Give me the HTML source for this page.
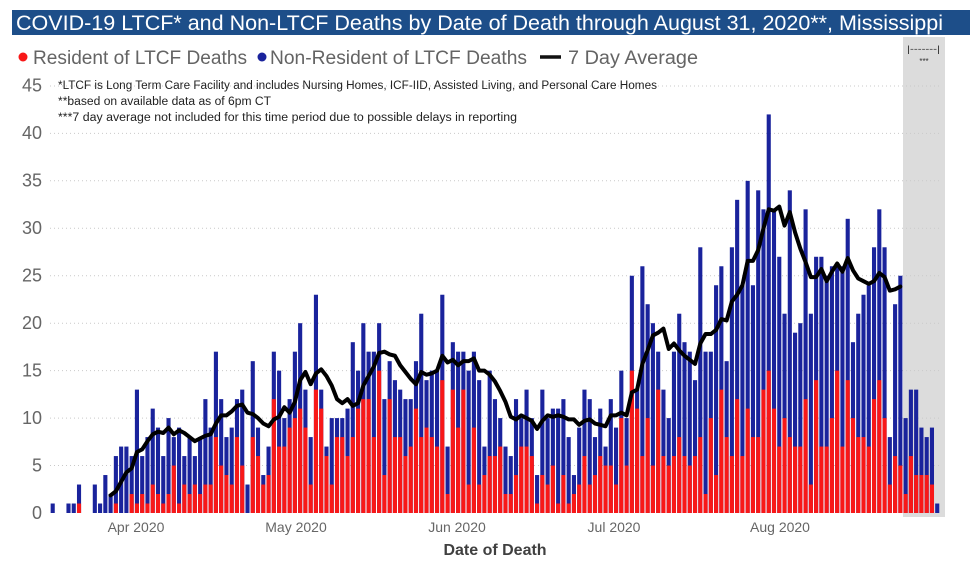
<!DOCTYPE html>
<html><head><meta charset="utf-8"><style>
html,body{margin:0;padding:0;background:#fff;}
svg{display:block;font-family:"Liberation Sans",sans-serif;}
</style></head><body>
<svg width="980" height="566" viewBox="0 0 980 566" xmlns="http://www.w3.org/2000/svg">
<rect width="980" height="566" fill="#fff"/>
<!-- title -->
<rect x="12" y="10" width="958" height="25" fill="#1d4e89"/>
<text x="16" y="30" font-size="21" fill="#fff" textLength="927" lengthAdjust="spacingAndGlyphs">COVID-19 LTCF* and Non-LTCF Deaths by Date of Death through August 31, 2020**, Mississippi</text>
<!-- legend -->
<circle cx="23" cy="57" r="4.5" fill="#f81818"/>
<text x="33" y="64" font-size="19" fill="#646464" textLength="214" lengthAdjust="spacingAndGlyphs">Resident of LTCF Deaths</text>
<circle cx="262" cy="57" r="4.5" fill="#1a239c"/>
<text x="270" y="64" font-size="19" fill="#646464" textLength="257" lengthAdjust="spacingAndGlyphs">Non-Resident of LTCF Deaths</text>
<line x1="540" y1="57" x2="561" y2="57" stroke="#111" stroke-width="3.5"/>
<text x="568" y="64" font-size="19" fill="#646464" textLength="130" lengthAdjust="spacingAndGlyphs">7 Day Average</text>
<!-- shaded region -->
<rect x="903" y="37" width="42" height="480" fill="#dcdcdc"/>
<text x="907" y="52" font-size="9" fill="#333" textLength="33" lengthAdjust="spacingAndGlyphs">|-------|</text>
<text x="924" y="64" font-size="8" fill="#333" text-anchor="middle">***</text>
<!-- gridlines -->
<g stroke="#c9c9c9" stroke-width="1" stroke-dasharray="1 3">
<line x1="50" x2="940" y1="465.5" y2="465.5"/>
<line x1="50" x2="940" y1="418.1" y2="418.1"/>
<line x1="50" x2="940" y1="370.6" y2="370.6"/>
<line x1="50" x2="940" y1="323.2" y2="323.2"/>
<line x1="50" x2="940" y1="275.7" y2="275.7"/>
<line x1="50" x2="940" y1="228.3" y2="228.3"/>
<line x1="50" x2="940" y1="180.8" y2="180.8"/>
<line x1="50" x2="940" y1="133.4" y2="133.4"/>
<line x1="50" x2="940" y1="86" y2="86"/>
</g>
<!-- y labels -->
<g font-size="18" fill="#666" text-anchor="end">
<text x="42" y="519">0</text>
<text x="42" y="471.5">5</text>
<text x="42" y="424">10</text>
<text x="42" y="376.5">15</text>
<text x="42" y="329">20</text>
<text x="42" y="281.5">25</text>
<text x="42" y="234">30</text>
<text x="42" y="186.5">35</text>
<text x="42" y="139">40</text>
<text x="42" y="91.5">45</text>
</g>
<!-- footnotes -->
<g font-size="11.5" fill="#222">
<text x="58" y="89" textLength="599" lengthAdjust="spacingAndGlyphs">*LTCF is Long Term Care Facility and includes Nursing Homes, ICF-IID, Assisted Living, and Personal Care Homes</text>
<text x="58" y="105" textLength="213" lengthAdjust="spacingAndGlyphs">**based on available data as of 6pm CT</text>
<text x="58" y="121" textLength="459" lengthAdjust="spacingAndGlyphs">***7 day average not included for this time period due to possible delays in reporting</text>
</g>
<!-- bars -->
<g transform="translate(52.7 513) scale(5.265 -9.49) translate(-0.39 0)">
<g fill="#1a239c">
<rect x="0" width=".78" height="1"/><rect x="3" width=".78" height="1"/><rect x="4" width=".78" height="1"/><rect x="5" width=".78" height="3"/>
<rect x="8" width=".78" height="3"/><rect x="9" width=".78" height="1"/><rect x="10" width=".78" height="4"/><rect x="11" width=".78" height="2"/>
<rect x="12" width=".78" height="6"/><rect x="13" width=".78" height="7"/><rect x="14" width=".78" height="7"/><rect x="15" width=".78" height="6"/>
<rect x="16" width=".78" height="13"/><rect x="17" width=".78" height="6"/><rect x="18" width=".78" height="8"/><rect x="19" width=".78" height="11"/>
<rect x="20" width=".78" height="9"/><rect x="21" width=".78" height="6"/><rect x="22" width=".78" height="10"/><rect x="23" width=".78" height="8"/>
<rect x="24" width=".78" height="9"/><rect x="25" width=".78" height="6"/><rect x="26" width=".78" height="8"/><rect x="27" width=".78" height="6"/>
<rect x="28" width=".78" height="8"/><rect x="29" width=".78" height="12"/><rect x="30" width=".78" height="9"/><rect x="31" width=".78" height="17"/>
<rect x="32" width=".78" height="12"/><rect x="33" width=".78" height="8"/><rect x="34" width=".78" height="9"/><rect x="35" width=".78" height="12"/>
<rect x="36" width=".78" height="13"/><rect x="37" width=".78" height="3"/><rect x="38" width=".78" height="16"/><rect x="39" width=".78" height="9"/>
<rect x="40" width=".78" height="4"/><rect x="41" width=".78" height="7"/><rect x="42" width=".78" height="17"/><rect x="43" width=".78" height="15"/>
<rect x="44" width=".78" height="10"/><rect x="45" width=".78" height="12"/><rect x="46" width=".78" height="17"/><rect x="47" width=".78" height="20"/>
<rect x="48" width=".78" height="13"/><rect x="49" width=".78" height="8"/><rect x="50" width=".78" height="23"/><rect x="51" width=".78" height="13"/>
<rect x="52" width=".78" height="7"/><rect x="53" width=".78" height="10"/><rect x="54" width=".78" height="10"/><rect x="55" width=".78" height="10"/>
<rect x="56" width=".78" height="11"/><rect x="57" width=".78" height="18"/><rect x="58" width=".78" height="15"/><rect x="59" width=".78" height="20"/>
<rect x="60" width=".78" height="17"/><rect x="61" width=".78" height="17"/><rect x="62" width=".78" height="20"/><rect x="63" width=".78" height="12"/>
<rect x="64" width=".78" height="16"/><rect x="65" width=".78" height="14"/><rect x="66" width=".78" height="13"/><rect x="67" width=".78" height="12"/>
<rect x="68" width=".78" height="12"/><rect x="69" width=".78" height="16"/><rect x="70" width=".78" height="21"/><rect x="71" width=".78" height="14"/>
<rect x="72" width=".78" height="15"/><rect x="73" width=".78" height="15"/><rect x="74" width=".78" height="23"/><rect x="75" width=".78" height="7"/>
<rect x="76" width=".78" height="18"/><rect x="77" width=".78" height="17"/><rect x="78" width=".78" height="17"/><rect x="79" width=".78" height="15"/>
<rect x="80" width=".78" height="17"/><rect x="81" width=".78" height="14"/><rect x="82" width=".78" height="7"/><rect x="83" width=".78" height="15"/>
<rect x="84" width=".78" height="12"/><rect x="85" width=".78" height="10"/><rect x="86" width=".78" height="7"/><rect x="87" width=".78" height="6"/>
<rect x="88" width=".78" height="12"/><rect x="89" width=".78" height="10"/><rect x="90" width=".78" height="13"/><rect x="91" width=".78" height="10"/>
<rect x="92" width=".78" height="4"/><rect x="93" width=".78" height="13"/><rect x="94" width=".78" height="10"/><rect x="95" width=".78" height="11"/>
<rect x="96" width=".78" height="11"/><rect x="97" width=".78" height="12"/><rect x="98" width=".78" height="8"/><rect x="99" width=".78" height="4"/>
<rect x="100" width=".78" height="9"/><rect x="101" width=".78" height="13"/><rect x="102" width=".78" height="12"/><rect x="103" width=".78" height="8"/>
<rect x="104" width=".78" height="11"/><rect x="105" width=".78" height="7"/><rect x="106" width=".78" height="12"/><rect x="107" width=".78" height="9"/>
<rect x="108" width=".78" height="15"/><rect x="109" width=".78" height="10"/><rect x="110" width=".78" height="25"/><rect x="111" width=".78" height="13"/>
<rect x="112" width=".78" height="26"/><rect x="113" width=".78" height="22"/><rect x="114" width=".78" height="20"/><rect x="115" width=".78" height="17"/>
<rect x="116" width=".78" height="13"/><rect x="117" width=".78" height="10"/><rect x="118" width=".78" height="17"/><rect x="119" width=".78" height="21"/>
<rect x="120" width=".78" height="18"/><rect x="121" width=".78" height="17"/><rect x="122" width=".78" height="14"/><rect x="123" width=".78" height="28"/>
<rect x="124" width=".78" height="17"/><rect x="125" width=".78" height="17"/><rect x="126" width=".78" height="24"/><rect x="127" width=".78" height="26"/>
<rect x="128" width=".78" height="16"/><rect x="129" width=".78" height="28"/><rect x="130" width=".78" height="33"/><rect x="131" width=".78" height="24"/>
<rect x="132" width=".78" height="35"/><rect x="133" width=".78" height="24"/><rect x="134" width=".78" height="34"/><rect x="135" width=".78" height="32"/>
<rect x="136" width=".78" height="42"/><rect x="137" width=".78" height="32"/><rect x="138" width=".78" height="27"/><rect x="139" width=".78" height="21"/>
<rect x="140" width=".78" height="34"/><rect x="141" width=".78" height="19"/><rect x="142" width=".78" height="20"/><rect x="143" width=".78" height="32"/>
<rect x="144" width=".78" height="21"/><rect x="145" width=".78" height="27"/><rect x="146" width=".78" height="27"/><rect x="147" width=".78" height="25"/>
<rect x="148" width=".78" height="26"/><rect x="149" width=".78" height="26"/><rect x="150" width=".78" height="26"/><rect x="151" width=".78" height="31"/>
<rect x="152" width=".78" height="18"/><rect x="153" width=".78" height="21"/><rect x="154" width=".78" height="23"/><rect x="155" width=".78" height="24"/>
<rect x="156" width=".78" height="28"/><rect x="157" width=".78" height="32"/><rect x="158" width=".78" height="28"/><rect x="159" width=".78" height="8"/>
<rect x="160" width=".78" height="22"/><rect x="161" width=".78" height="25"/><rect x="162" width=".78" height="10"/><rect x="163" width=".78" height="13"/>
<rect x="164" width=".78" height="13"/><rect x="165" width=".78" height="9"/><rect x="166" width=".78" height="8"/><rect x="167" width=".78" height="9"/>
<rect x="168" width=".78" height="1"/>
</g>
<g fill="#f81818">
<rect x="5" width=".78" height="1"/><rect x="12" width=".78" height="1"/><rect x="15" width=".78" height="2"/><rect x="16" width=".78" height="1"/>
<rect x="17" width=".78" height="2"/><rect x="18" width=".78" height="1"/><rect x="19" width=".78" height="3"/><rect x="20" width=".78" height="2"/>
<rect x="21" width=".78" height="1"/><rect x="22" width=".78" height="2"/><rect x="23" width=".78" height="5"/><rect x="24" width=".78" height="1"/>
<rect x="25" width=".78" height="3"/><rect x="26" width=".78" height="2"/><rect x="27" width=".78" height="3"/><rect x="28" width=".78" height="2"/>
<rect x="29" width=".78" height="3"/><rect x="30" width=".78" height="3"/><rect x="31" width=".78" height="8"/><rect x="32" width=".78" height="5"/>
<rect x="33" width=".78" height="4"/><rect x="34" width=".78" height="3"/><rect x="35" width=".78" height="8"/><rect x="36" width=".78" height="5"/>
<rect x="38" width=".78" height="8"/><rect x="39" width=".78" height="6"/><rect x="40" width=".78" height="3"/><rect x="41" width=".78" height="4"/>
<rect x="42" width=".78" height="12"/><rect x="43" width=".78" height="7"/><rect x="44" width=".78" height="7"/><rect x="45" width=".78" height="9"/>
<rect x="46" width=".78" height="10"/><rect x="47" width=".78" height="11"/><rect x="48" width=".78" height="9"/><rect x="49" width=".78" height="3"/>
<rect x="50" width=".78" height="13"/><rect x="51" width=".78" height="11"/><rect x="52" width=".78" height="6"/><rect x="53" width=".78" height="3"/>
<rect x="54" width=".78" height="8"/><rect x="55" width=".78" height="8"/><rect x="56" width=".78" height="6"/><rect x="57" width=".78" height="8"/>
<rect x="58" width=".78" height="11"/><rect x="59" width=".78" height="12"/><rect x="60" width=".78" height="12"/><rect x="61" width=".78" height="8"/>
<rect x="62" width=".78" height="15"/><rect x="63" width=".78" height="4"/><rect x="64" width=".78" height="12"/><rect x="65" width=".78" height="8"/>
<rect x="66" width=".78" height="8"/><rect x="67" width=".78" height="6"/><rect x="68" width=".78" height="7"/><rect x="69" width=".78" height="11"/>
<rect x="70" width=".78" height="8"/><rect x="71" width=".78" height="9"/><rect x="72" width=".78" height="8"/><rect x="73" width=".78" height="7"/>
<rect x="74" width=".78" height="14"/><rect x="75" width=".78" height="2"/><rect x="76" width=".78" height="13"/><rect x="77" width=".78" height="9"/>
<rect x="78" width=".78" height="13"/><rect x="79" width=".78" height="3"/><rect x="80" width=".78" height="9"/><rect x="81" width=".78" height="3"/>
<rect x="82" width=".78" height="4"/><rect x="83" width=".78" height="6"/><rect x="84" width=".78" height="6"/><rect x="85" width=".78" height="7"/>
<rect x="86" width=".78" height="2"/><rect x="87" width=".78" height="2"/><rect x="88" width=".78" height="4"/><rect x="89" width=".78" height="7"/>
<rect x="90" width=".78" height="7"/><rect x="91" width=".78" height="6"/><rect x="92" width=".78" height="1"/><rect x="93" width=".78" height="4"/>
<rect x="94" width=".78" height="3"/><rect x="95" width=".78" height="5"/><rect x="96" width=".78" height="1"/><rect x="97" width=".78" height="4"/>
<rect x="98" width=".78" height="1"/><rect x="99" width=".78" height="2"/><rect x="100" width=".78" height="3"/><rect x="101" width=".78" height="6"/>
<rect x="102" width=".78" height="3"/><rect x="103" width=".78" height="4"/><rect x="104" width=".78" height="6"/><rect x="105" width=".78" height="5"/>
<rect x="106" width=".78" height="5"/><rect x="107" width=".78" height="3"/><rect x="108" width=".78" height="10"/><rect x="109" width=".78" height="5"/>
<rect x="110" width=".78" height="15"/><rect x="111" width=".78" height="11"/><rect x="112" width=".78" height="6"/><rect x="113" width=".78" height="10"/>
<rect x="114" width=".78" height="5"/><rect x="115" width=".78" height="13"/><rect x="116" width=".78" height="6"/><rect x="117" width=".78" height="5"/>
<rect x="118" width=".78" height="6"/><rect x="119" width=".78" height="8"/><rect x="120" width=".78" height="6"/><rect x="121" width=".78" height="5"/>
<rect x="122" width=".78" height="6"/><rect x="123" width=".78" height="8"/><rect x="124" width=".78" height="2"/><rect x="125" width=".78" height="10"/>
<rect x="126" width=".78" height="4"/><rect x="127" width=".78" height="13"/><rect x="128" width=".78" height="8"/><rect x="129" width=".78" height="6"/>
<rect x="130" width=".78" height="12"/><rect x="131" width=".78" height="6"/><rect x="132" width=".78" height="11"/><rect x="133" width=".78" height="8"/>
<rect x="134" width=".78" height="8"/><rect x="135" width=".78" height="13"/><rect x="136" width=".78" height="15"/><rect x="137" width=".78" height="11"/>
<rect x="138" width=".78" height="7"/><rect x="139" width=".78" height="10"/><rect x="140" width=".78" height="8"/><rect x="141" width=".78" height="7"/>
<rect x="142" width=".78" height="7"/><rect x="143" width=".78" height="12"/><rect x="144" width=".78" height="3"/><rect x="145" width=".78" height="14"/>
<rect x="146" width=".78" height="7"/><rect x="147" width=".78" height="7"/><rect x="148" width=".78" height="10"/><rect x="149" width=".78" height="15"/>
<rect x="150" width=".78" height="7"/><rect x="151" width=".78" height="14"/><rect x="152" width=".78" height="10"/><rect x="153" width=".78" height="8"/>
<rect x="154" width=".78" height="8"/><rect x="155" width=".78" height="7"/><rect x="156" width=".78" height="12"/><rect x="157" width=".78" height="14"/>
<rect x="158" width=".78" height="10"/><rect x="159" width=".78" height="3"/><rect x="160" width=".78" height="6"/><rect x="161" width=".78" height="5"/>
<rect x="162" width=".78" height="2"/><rect x="163" width=".78" height="6"/><rect x="164" width=".78" height="4"/><rect x="165" width=".78" height="4"/>
<rect x="166" width=".78" height="4"/><rect x="167" width=".78" height="3"/>
</g>
</g>
<!-- 7 day average -->
<g transform="translate(52.7 513) scale(5.265 -9.49)">
<polyline fill="none" stroke="#000" stroke-width="4" stroke-linejoin="round" stroke-linecap="round" vector-effect="non-scaling-stroke" points="11,1.86 12,2.29 13,3.29 14,4.29 15,4.71 16,6.43 17,6.71 18,7.57 19,8.29 20,8.57 21,8.43 22,9 23,8.29 24,8.71 25,8.43 26,8 27,7.57 28,7.86 29,8.14 30,8.29 31,9.43 32,10.29 33,10.29 34,10.71 35,11.29 36,11.43 37,10.57 38,10.43 39,10 40,9.43 41,9.14 42,9.86 43,10.14 44,11.14 45,10.57 46,11.71 47,14 48,14.86 49,13.57 50,14.71 51,15.14 52,14.43 53,13.43 54,12 55,11.57 56,12 57,11.29 58,11.57 59,13.43 60,14.43 61,15.43 62,16.86 63,17 64,16.71 65,16.57 66,15.57 67,14.86 68,14.14 69,13.57 70,14.86 71,14.57 72,14.71 73,15 74,16.57 75,15.86 76,16.14 77,15.57 78,16 79,16 80,16.29 81,15 82,15 83,14.57 84,13.86 85,12.86 86,11.71 87,10.14 88,9.86 89,10.29 90,10 91,9.71 92,8.86 93,9.71 94,10.29 95,10.14 96,10.29 97,10.14 98,9.86 99,9.86 100,9.29 101,9.71 102,9.86 103,9.43 104,9.29 105,9.14 106,10.29 107,10.29 108,10.57 109,10.29 110,12.71 111,13 112,15.71 113,17.14 114,18.71 115,19 116,19.43 117,17.29 118,17.86 119,17.14 120,16.57 121,16.14 122,15.71 123,17.86 124,18.86 125,18.86 126,19.29 127,20.43 128,20.29 129,22.29 130,23 131,24 132,26.57 133,26.57 134,27.71 135,30 136,32 137,31.86 138,32.29 139,30.29 140,31.71 141,29.57 142,27.86 143,26.43 144,24.86 145,24.86 146,25.71 147,24.43 148,25.43 149,26.29 150,25.43 151,26.86 152,25.57 153,24.71 154,24.43 155,24.14 156,24.43 157,25.29 158,24.86 159,23.43 160,23.57 161,23.86"/>
</g>
<!-- x labels -->
<g font-size="14" fill="#666" text-anchor="middle">
<text x="136" y="532">Apr 2020</text>
<text x="296" y="532">May 2020</text>
<text x="457" y="532">Jun 2020</text>
<text x="614" y="532">Jul 2020</text>
<text x="780" y="532">Aug 2020</text>
</g>
<text x="495" y="555" font-size="16" font-weight="bold" fill="#404040" text-anchor="middle">Date of Death</text>
</svg>
</body></html>
